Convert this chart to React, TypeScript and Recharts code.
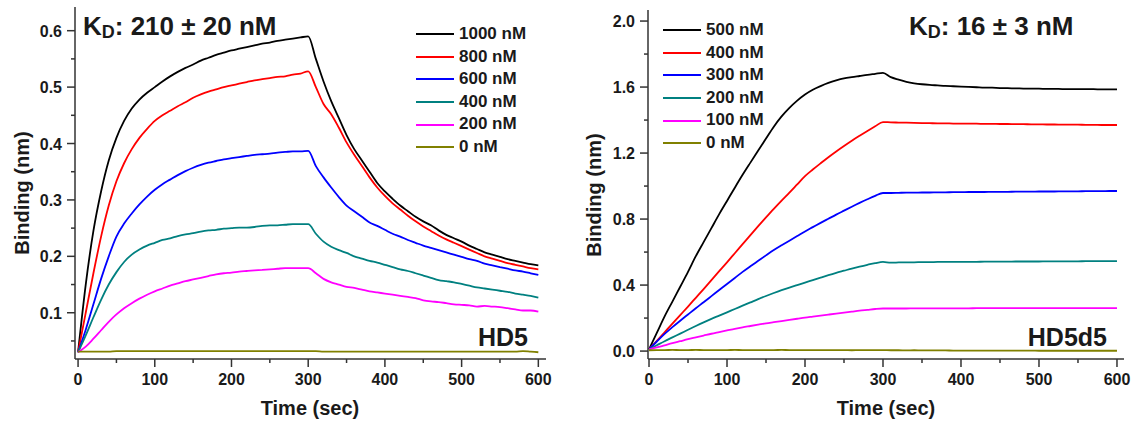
import React from 'react'
import { LineChart, Line, XAxis, YAxis, Legend } from 'recharts'

const FONT = '"Liberation Sans", Arial, Helvetica, sans-serif'
const INK = '#1a1a1a'
const AXIS = '#333333'

// time points (sec)
const times = [
  0, 10, 20, 30, 40, 50, 60, 70, 80, 90,
  100, 110, 120, 130, 140, 150, 160, 170, 180, 190,
  200, 210, 220, 230, 240, 250, 260, 270, 280, 290,
  300, 310, 320, 330, 340, 350, 360, 370, 380, 390,
  400, 410, 420, 430, 440, 450, 460, 470, 480, 490,
  500, 510, 520, 530, 540, 550, 560, 570, 580, 590,
  600,
]

// ---- HD5 panel ----
const hd5Labels = ['1000 nM', '800 nM', '600 nM', '400 nM', '200 nM', '0 nM']

const hd5_1000 = [
  0.03, 0.15, 0.245, 0.315, 0.37, 0.41, 0.44, 0.462, 0.478, 0.49,
  0.5, 0.51, 0.519, 0.527, 0.534, 0.54, 0.547, 0.552, 0.557, 0.561,
  0.565, 0.568, 0.571, 0.574, 0.577, 0.579, 0.582, 0.584, 0.586, 0.588,
  0.59, 0.55, 0.51, 0.475, 0.445, 0.415, 0.39, 0.37, 0.35, 0.33,
  0.315, 0.302, 0.29, 0.28, 0.27, 0.262, 0.255, 0.246, 0.238, 0.232,
  0.226, 0.219, 0.213, 0.207, 0.203, 0.199, 0.195, 0.192, 0.189, 0.186,
  0.184,
]
const hd5_800 = [
  0.03, 0.1, 0.17, 0.235, 0.29, 0.333, 0.365, 0.39, 0.41, 0.426,
  0.44, 0.45, 0.458, 0.466, 0.473, 0.481, 0.487, 0.492, 0.496, 0.5,
  0.503, 0.506, 0.509, 0.512, 0.514, 0.516, 0.518, 0.519, 0.522, 0.524,
  0.528, 0.5, 0.47, 0.452, 0.428, 0.402, 0.38, 0.36, 0.34, 0.322,
  0.307, 0.294, 0.283, 0.272, 0.262, 0.253, 0.245, 0.237, 0.23, 0.224,
  0.218, 0.212, 0.206, 0.2, 0.196, 0.192, 0.188, 0.185, 0.182, 0.179,
  0.177,
]
const hd5_600 = [
  0.03, 0.07, 0.115, 0.16, 0.2, 0.235, 0.258, 0.276, 0.292, 0.306,
  0.318, 0.328, 0.336, 0.344, 0.351, 0.357, 0.362, 0.366, 0.369, 0.372,
  0.374, 0.376, 0.378, 0.38, 0.381, 0.382, 0.384, 0.385, 0.386, 0.386,
  0.387, 0.36, 0.34, 0.322, 0.305, 0.29, 0.28, 0.27, 0.26, 0.254,
  0.247, 0.24, 0.235, 0.229, 0.224, 0.219, 0.215, 0.211, 0.207, 0.203,
  0.199, 0.195, 0.192, 0.187, 0.184, 0.181, 0.178, 0.175, 0.173, 0.17,
  0.167,
]
const hd5_400 = [
  0.03, 0.06, 0.092, 0.123, 0.15, 0.172, 0.19, 0.203, 0.212, 0.219,
  0.224, 0.229, 0.232, 0.236, 0.239, 0.241, 0.244, 0.246, 0.247, 0.249,
  0.25, 0.251, 0.251, 0.252, 0.254, 0.255, 0.255, 0.256, 0.257, 0.257,
  0.257, 0.24, 0.226, 0.217, 0.211, 0.206, 0.2, 0.196, 0.192, 0.189,
  0.185, 0.181, 0.177, 0.174, 0.17, 0.166, 0.162, 0.158, 0.156, 0.154,
  0.151, 0.148, 0.145, 0.143, 0.141, 0.139, 0.137, 0.134, 0.132, 0.13,
  0.127,
]
const hd5_200 = [
  0.03, 0.04, 0.054, 0.069, 0.084, 0.097, 0.108, 0.117, 0.125, 0.132,
  0.138, 0.143, 0.148, 0.152, 0.156, 0.159, 0.162, 0.165, 0.168, 0.17,
  0.171, 0.173, 0.174, 0.175, 0.176, 0.177, 0.178, 0.179, 0.179, 0.179,
  0.179, 0.17, 0.16, 0.154, 0.15, 0.146, 0.144, 0.141, 0.138, 0.136,
  0.134, 0.132, 0.13, 0.128, 0.126, 0.122, 0.12, 0.119, 0.117, 0.115,
  0.114, 0.113, 0.111, 0.112, 0.111, 0.11, 0.108, 0.106, 0.104, 0.104,
  0.102,
]
const hd5_0 = [
  0.031, 0.031, 0.031, 0.031, 0.031, 0.032, 0.032, 0.032, 0.032, 0.032,
  0.032, 0.032, 0.032, 0.032, 0.032, 0.032, 0.032, 0.032, 0.032, 0.032,
  0.032, 0.032, 0.032, 0.032, 0.032, 0.032, 0.032, 0.032, 0.032, 0.032,
  0.032, 0.032, 0.031, 0.031, 0.031, 0.031, 0.031, 0.031, 0.031, 0.031,
  0.031, 0.031, 0.031, 0.031, 0.031, 0.031, 0.031, 0.031, 0.031, 0.031,
  0.031, 0.031, 0.031, 0.031, 0.031, 0.031, 0.031, 0.031, 0.032, 0.031,
  0.03,
]

// ---- HD5d5 panel ----
const d5Labels = ['500 nM', '400 nM', '300 nM', '200 nM', '100 nM', '0 nM']

const d5_500 = [
  0.01, 0.11, 0.21, 0.3, 0.39, 0.48, 0.575, 0.66, 0.745, 0.83,
  0.91, 0.99, 1.068, 1.142, 1.215, 1.288, 1.36, 1.422, 1.474, 1.518,
  1.555, 1.584, 1.606, 1.625, 1.64, 1.652, 1.66, 1.667, 1.674, 1.68,
  1.686, 1.66, 1.645, 1.632, 1.623, 1.617, 1.613, 1.61, 1.607, 1.605,
  1.603, 1.601, 1.599, 1.597, 1.596, 1.594, 1.593, 1.592, 1.591, 1.59,
  1.59, 1.589, 1.589, 1.588, 1.588, 1.587, 1.587, 1.587, 1.586, 1.586,
  1.586,
]
const d5_400 = [
  0.01, 0.062, 0.114, 0.166, 0.218, 0.27, 0.323, 0.376, 0.43, 0.484,
  0.538, 0.593, 0.648, 0.703, 0.757, 0.81, 0.862, 0.912, 0.96, 1.01,
  1.06, 1.1, 1.138, 1.175, 1.21, 1.243, 1.275, 1.305, 1.334, 1.362,
  1.388, 1.386, 1.385, 1.384, 1.383, 1.382, 1.381, 1.38, 1.38, 1.379,
  1.379, 1.378, 1.378, 1.377, 1.377, 1.376, 1.376, 1.375, 1.375, 1.374,
  1.374, 1.373, 1.373, 1.372, 1.372, 1.372, 1.371, 1.371, 1.37, 1.37,
  1.37,
]
const d5_300 = [
  0.01, 0.058, 0.104, 0.145, 0.184, 0.222, 0.26, 0.296, 0.333, 0.37,
  0.407, 0.443, 0.48, 0.514, 0.547, 0.58, 0.612, 0.641, 0.669, 0.697,
  0.725, 0.751, 0.777, 0.802, 0.827, 0.851, 0.875, 0.898, 0.92, 0.941,
  0.958, 0.958, 0.959, 0.96, 0.96, 0.961, 0.961, 0.962, 0.962, 0.963,
  0.963, 0.964, 0.964, 0.964, 0.965, 0.965, 0.965, 0.966, 0.966, 0.966,
  0.967, 0.967, 0.967, 0.968, 0.968, 0.968, 0.969, 0.969, 0.969, 0.97,
  0.97,
]
const d5_200 = [
  0.01, 0.035, 0.06, 0.083, 0.106, 0.129, 0.152, 0.174, 0.195, 0.215,
  0.235, 0.255, 0.275, 0.295, 0.315, 0.334, 0.352, 0.369, 0.385, 0.4,
  0.415, 0.43, 0.445, 0.46, 0.474, 0.487, 0.5, 0.512, 0.523, 0.533,
  0.54, 0.536, 0.537, 0.538, 0.538, 0.539, 0.539, 0.54, 0.54, 0.54,
  0.541, 0.541, 0.541, 0.542, 0.542, 0.542, 0.542, 0.543, 0.543, 0.543,
  0.543, 0.544, 0.544, 0.544, 0.544, 0.544, 0.545, 0.545, 0.545, 0.545,
  0.545,
]
const d5_100 = [
  0.01, 0.022, 0.035, 0.048, 0.06, 0.072, 0.083, 0.094, 0.105, 0.115,
  0.125, 0.135, 0.144, 0.152, 0.16, 0.168, 0.175, 0.182, 0.189, 0.196,
  0.203, 0.209, 0.215, 0.221, 0.227, 0.233, 0.239, 0.245, 0.25, 0.255,
  0.258, 0.258, 0.258, 0.258, 0.259, 0.259, 0.259, 0.259, 0.259, 0.259,
  0.259, 0.259, 0.26, 0.26, 0.26, 0.26, 0.26, 0.26, 0.26, 0.26,
  0.26, 0.26, 0.26, 0.26, 0.26, 0.26, 0.26, 0.26, 0.26, 0.26,
  0.26,
]
const d5_0 = [
  0.005, 0.006, 0.006, 0.007, 0.006, 0.006, 0.007, 0.006, 0.006, 0.006,
  0.006, 0.007, 0.006, 0.006, 0.006, 0.006, 0.006, 0.007, 0.006, 0.006,
  0.006, 0.006, 0.006, 0.006, 0.006, 0.006, 0.005, 0.006, 0.006, 0.006,
  0.006, 0.005, 0.005, 0.004, 0.005, 0.004, 0.004, 0.004, 0.004, 0.003,
  0.003, 0.003, 0.003, 0.003, 0.003, 0.003, 0.003, 0.003, 0.003, 0.003,
  0.002, 0.002, 0.002, 0.002, 0.002, 0.002, 0.002, 0.002, 0.002, 0.002,
  0.002,
]

const xTicks = [0, 50, 100, 150, 200, 250, 300, 350, 400, 450, 500, 550, 600]
const hd5YTicks = [0.05, 0.1, 0.15, 0.2, 0.25, 0.3, 0.35, 0.4, 0.45, 0.5, 0.55, 0.6]
const d5YTicks = [0, 0.2, 0.4, 0.6, 0.8, 1.0, 1.2, 1.4, 1.6, 1.8, 2.0]

const seriesColors = ['#000000', '#ff0000', '#0000ff', '#008080', '#ff00ff', '#808000']

function toRows(series: number[][]) {
  return times.map((t, i) => {
    const row: Record<string, number> = { t }
    series.forEach((s, k) => {
      row['s' + k] = s[i]
    })
    return row
  })
}

const hd5Rows = toRows([hd5_1000, hd5_800, hd5_600, hd5_400, hd5_200, hd5_0])
const d5Rows = toRows([d5_500, d5_400, d5_300, d5_200, d5_100, d5_0])

const textStyle = { fontFamily: FONT, fontWeight: 700, fill: INK }

function xTick(props: any) {
  const { x, y, payload } = props
  const major = payload.value % 100 === 0
  return (
    <g>
      <line x1={x} x2={x} y1={y} y2={y + (major ? 8 : 4)} stroke={AXIS} strokeWidth={1.5} />
      {major && (
        <text x={x} y={y + 26} textAnchor="middle" fontSize={16} {...textStyle}>
          {payload.value}
        </text>
      )}
    </g>
  )
}

function makeYTick(step: number) {
  return (props: any) => {
    const { x, y, payload } = props
    const v = payload.value
    const q = v / step
    const major = Math.abs(q - Math.round(q)) < 1e-6
    return (
      <g>
        <line x1={x - (major ? 8 : 4)} x2={x} y1={y} y2={y} stroke={AXIS} strokeWidth={1.5} />
        {major && (
          <text x={x - 13} y={y + 6} textAnchor="end" fontSize={16} {...textStyle}>
            {v.toFixed(1)}
          </text>
        )}
      </g>
    )
  }
}

function makeLegend(labels: string[]) {
  return () => (
    <div style={{ fontFamily: FONT, fontWeight: 700, fontSize: 17, color: INK }}>
      {labels.map((name, k) => (
        <div key={name} style={{ display: 'flex', alignItems: 'center', height: 22.6 }}>
          <span style={{ width: 38, borderTop: `2px solid ${seriesColors[k]}`, marginRight: 5 }} />
          <span style={{ lineHeight: '22.6px' }}>{name}</span>
        </div>
      ))}
    </div>
  )
}

type PanelProps = {
  rows: Record<string, number>[]
  labels: string[]
  xDomain: [number, number]
  yDomain: [number, number]
  yTicks: number[]
  yStep: number
  margin: { top: number; right: number; bottom: number; left: number }
  legendPos: { left: number; top: number }
  yLabelPos: { x: number; y: number }
  xLabelPos: { x: number; y: number }
}

function Panel(p: PanelProps) {
  const yl = p.yLabelPos
  return (
    <LineChart width={566} height={423} data={p.rows} margin={p.margin}>
      <XAxis
        dataKey="t"
        type="number"
        domain={p.xDomain}
        allowDataOverflow
        ticks={xTicks}
        interval={0}
        tick={xTick}
        tickLine={false}
        tickSize={0}
        tickMargin={0}
        height={30}
        axisLine={{ stroke: AXIS, strokeWidth: 1.5 }}
        label={{
          content: () => (
            <text x={p.xLabelPos.x} y={p.xLabelPos.y} textAnchor="middle" fontSize={20} {...textStyle}>
              Time (sec)
            </text>
          ),
        }}
      />
      <YAxis
        type="number"
        domain={p.yDomain}
        allowDataOverflow
        ticks={p.yTicks}
        interval={0}
        tick={makeYTick(p.yStep)}
        tickLine={false}
        tickSize={0}
        tickMargin={0}
        width={60}
        axisLine={{ stroke: AXIS, strokeWidth: 1.5 }}
        label={{
          content: () => (
            <text
              x={yl.x}
              y={yl.y}
              transform={`rotate(-90 ${yl.x} ${yl.y})`}
              textAnchor="middle"
              fontSize={20}
              {...textStyle}
            >
              Binding (nm)
            </text>
          ),
        }}
      />
      <Legend
        layout="vertical"
        align="center"
        verticalAlign="middle"
        content={makeLegend(p.labels)}
        wrapperStyle={{ left: p.legendPos.left, top: p.legendPos.top, width: 130 }}
      />
      {p.labels.map((name, k) => (
        <Line
          key={name}
          type="monotone"
          dataKey={'s' + k}
          name={name}
          stroke={seriesColors[k]}
          strokeWidth={1.8}
          dot={false}
          isAnimationActive={false}
        />
      ))}
    </LineChart>
  )
}

export default function App() {
  return (
    <div style={{ position: 'absolute', left: 0, top: 0, width: 1132, height: 423, background: '#fff' }}>
      <div style={{ position: 'absolute', left: 0, top: 0 }}>
        <Panel
          rows={hd5Rows}
          labels={hd5Labels}
          xDomain={[-4, 610]}
          yDomain={[0.018, 0.642]}
          yTicks={hd5YTicks}
          yStep={0.1}
          margin={{ top: 7, right: 20, bottom: 34, left: 15 }}
          legendPos={{ left: 416, top: 23 }}
          yLabelPos={{ x: 29, y: 193 }}
          xLabelPos={{ x: 310, y: 415 }}
        />
      </div>
      <div style={{ position: 'absolute', left: 566, top: 0 }}>
        <Panel
          rows={d5Rows}
          labels={d5Labels}
          xDomain={[-1.3, 609]}
          yDomain={[-0.048, 2.067]}
          yTicks={d5YTicks}
          yStep={0.4}
          margin={{ top: 10, right: 8, bottom: 34, left: 22 }}
          legendPos={{ left: 97, top: 19 }}
          yLabelPos={{ x: 35, y: 195 }}
          xLabelPos={{ x: 320, y: 415 }}
        />
      </div>
      <svg
        width={1132}
        height={423}
        style={{ position: 'absolute', left: 0, top: 0, pointerEvents: 'none' }}
      >
        <text x={83} y={35} fontSize={26} {...textStyle}>
          K<tspan fontSize={18} dy={3}>D</tspan>
          <tspan dy={-3}>: 210 ± 20 nM</tspan>
        </text>
        <text x={528} y={346} fontSize={25} textAnchor="end" {...textStyle}>
          HD5
        </text>
        <text x={909} y={35} fontSize={26} {...textStyle}>
          K<tspan fontSize={18} dy={3}>D</tspan>
          <tspan dy={-3}>: 16 ± 3 nM</tspan>
        </text>
        <text x={1107} y={346} fontSize={25} textAnchor="end" {...textStyle}>
          HD5d5
        </text>
      </svg>
    </div>
  )
}
